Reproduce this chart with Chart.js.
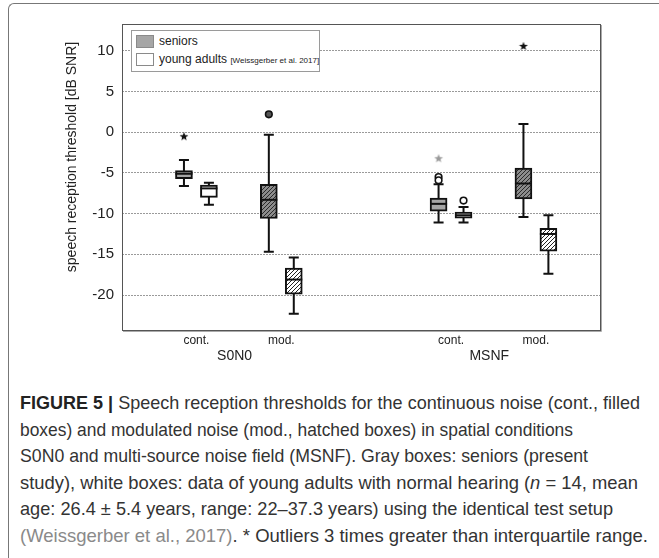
<!DOCTYPE html>
<html>
<head>
<meta charset="utf-8">
<script src="https://cdn.jsdelivr.net/npm/chart.js@4.4.1/dist/chart.umd.min.js"></script>
<style>
  html, body { margin: 0; padding: 0; background: #fff; }
  body { width: 659px; height: 558px; position: relative; overflow: hidden; font-family: Arial, "Liberation Sans", sans-serif; }
  #frame { position: absolute; left: 8px; top: 3px; width: 700px; height: 600px; border-left: 1px solid #777; border-top: 1px solid #777; border-top-left-radius: 6px; }
  #chartBox { position: absolute; left: 0; top: 0; width: 659px; height: 365px; }
  #legend { position: absolute; left: 131px; top: 30px; width: 187px; height: 40px; border: 1px solid #9a9a9a; background: #fff; font-size: 12px; color: #222; }
  #legend .item { position: absolute; left: 4px; height: 13px; line-height: 13px; white-space: nowrap; }
  #legend .sw { position: absolute; left: 0; top: 0; width: 16px; height: 11px; border: 1px solid #8a8a8a; }
  #legend .txt { position: absolute; left: 23px; top: 0; }
  #legend small { font-size: 8px; }
  #caption { position: absolute; left: 20px; top: 390px; font-family: "Liberation Sans Narrow", "Liberation Sans", Arial, sans-serif; font-size: 18.5px; line-height: 26.5px; color: #333; }
  #caption .line { display: block; white-space: nowrap; width: max-content; transform-origin: 0 50%; }
  #caption b { color: #222; }
  #caption .ref { color: #8a8a8a; }
</style>
</head>
<body>
<div id="frame"></div>
<div id="chartBox"><canvas id="srtChart" width="659" height="365"></canvas></div>
<div id="legend">
  <div class="item" style="top:4px"><span class="sw" style="background:#a6a6a6"></span><span class="txt">seniors</span></div>
  <div class="item" style="top:22px"><span class="sw" style="background:#fff"></span><span class="txt">young adults <small>[Weissgerber et al. 2017]</small></span></div>
</div>
<div id="caption">
  <span class="line"><b>FIGURE 5 |</b> Speech reception thresholds for the continuous noise (cont., filled</span>
  <span class="line">boxes) and modulated noise (mod., hatched boxes) in spatial conditions</span>
  <span class="line">S0N0 and multi-source noise field (MSNF). Gray boxes: seniors (present</span>
  <span class="line">study), white boxes: data of young adults with normal hearing (<i>n</i> = 14, mean</span>
  <span class="line">age: 26.4 ± 5.4 years, range: 22–37.3 years) using the identical test setup</span>
  <span class="line"><span class="ref">(Weissgerber et al., 2017)</span>. * Outliers 3 times greater than interquartile range.</span>
</div>
<script>
// noise types per spatial condition
const categories = ["cont.", "mod.", "cont.", "mod."];
const conditions = ["S0N0", "MSNF"];
const yTicks = [10, 5, 0, -5, -10, -15, -20];

// seniors (present study), dB SNR
const seniorsLow = [-6.6, -14.7, -11.1, -10.4];
const seniorsQ1 = [-5.7, -10.6, -9.7, -8.2];
const seniorsMedian = [-5.1, -8.3, -8.8, -6.3];
const seniorsQ3 = [-4.7, -6.4, -8.1, -4.4];
const seniorsHigh = [-3.4, -0.3, -6.4, 1.0];

// young adults (Weissgerber et al. 2017), dB SNR
const youngLow = [-8.9, -22.3, -11.1, -17.4];
const youngQ1 = [-8.0, -19.9, -10.55, -14.6];
const youngMedian = [-6.9, -18.1, -10.2, -12.5];
const youngQ3 = [-6.5, -16.7, -9.8, -11.8];
const youngHigh = [-6.2, -15.4, -9.2, -10.2];

// outliers: group (0 seniors, 1 young), category index, value, kind
const outlierGroup = [0, 0, 0, 0, 0, 1, 0];
const outlierCategory = [0, 1, 2, 2, 2, 2, 3];
const outlierValues = [-0.5, 2.2, -3.2, -5.5, -5.9, -8.4, 10.6];
const outlierKinds = ["extreme", "outlier", "extreme", "outlier", "outlier", "outlier", "extreme"];

// ---- layout / style ----
const pairOffset = 0.147;
const slotOf = (i) => i + 1 + (i >= 2 ? 1 : 0);   // gap between the two conditions
const xOf = (group, i) => slotOf(i) + (group === 0 ? -pairOffset : pairOffset);

function hatch(bg, fg) {
  const c = document.createElement("canvas");
  c.width = 4; c.height = 4;
  const g = c.getContext("2d");
  g.fillStyle = bg; g.fillRect(0, 0, 4, 4);
  g.strokeStyle = fg; g.lineWidth = 1;
  g.beginPath();
  g.moveTo(-1, 5); g.lineTo(5, -1);
  g.moveTo(-3, 3); g.lineTo(3, -3);
  g.moveTo(1, 7); g.lineTo(7, 1);
  g.stroke();
  return g.createPattern(c, "repeat");
}

function starImage(color) {
  const c = document.createElement("canvas");
  c.width = 10; c.height = 10;
  const g = c.getContext("2d");
  g.fillStyle = color;
  g.beginPath();
  for (let k = 0; k < 10; k++) {
    const r = k % 2 === 0 ? 4.6 : 1.9;
    const a = -Math.PI / 2 + k * Math.PI / 5;
    g.lineTo(5 + r * Math.cos(a), 5.3 + r * Math.sin(a));
  }
  g.closePath();
  g.fill();
  return c;
}

const ctx0 = document.getElementById("srtChart").getContext("2d");
const seniorsFill = ["#a6a6a6", hatch("#8c8c8c", "#2a2a2a"), "#a6a6a6", hatch("#8c8c8c", "#2a2a2a")];
const youngFill = ["#ffffff", hatch("#ffffff", "#222"), "#ffffff", hatch("#ffffff", "#222")];
const blackStar = starImage("#111");
const grayStar = starImage("#9a9a9a");

const boxes = [
  { low: seniorsLow, q1: seniorsQ1, med: seniorsMedian, q3: seniorsQ3, high: seniorsHigh },
  { low: youngLow, q1: youngQ1, med: youngMedian, q3: youngQ3, high: youngHigh },
];

const outlierPoints = outlierValues.map((v, k) => ({ x: xOf(outlierGroup[k], outlierCategory[k]), y: v }));

const boxParts = {
  id: "boxParts",
  beforeDatasetsDraw(chart) {
    const { ctx, scales: { x, y } } = chart;
    ctx.save();
    ctx.strokeStyle = "#111";
    ctx.lineWidth = 2;
    boxes.forEach((b, g) => {
      categories.forEach((c, i) => {
        const px = x.getPixelForValue(xOf(g, i));
        const lo = y.getPixelForValue(b.low[i]);
        const hi = y.getPixelForValue(b.high[i]);
        ctx.beginPath();
        ctx.moveTo(px, lo); ctx.lineTo(px, hi);
        ctx.moveTo(px - 5, lo); ctx.lineTo(px + 5, lo);
        ctx.moveTo(px - 5, hi); ctx.lineTo(px + 5, hi);
        ctx.stroke();
      });
    });
    ctx.restore();
  },
  afterDatasetsDraw(chart) {
    const { ctx, scales: { x, y } } = chart;
    ctx.save();
    ctx.strokeStyle = "#111";
    ctx.lineWidth = 2;
    boxes.forEach((b, g) => {
      const meta = chart.getDatasetMeta(g);
      categories.forEach((c, i) => {
        const bar = meta.data[i];
        const px = x.getPixelForValue(xOf(g, i));
        const py = y.getPixelForValue(b.med[i]);
        ctx.beginPath();
        ctx.moveTo(px - bar.width / 2, py); ctx.lineTo(px + bar.width / 2, py);
        ctx.stroke();
      });
    });
    // plot frame with a slight shadow on right / bottom
    const a = chart.chartArea;
    ctx.lineWidth = 1;
    ctx.strokeStyle = "#555";
    ctx.strokeRect(a.left + 0.5, a.top + 0.5, a.right - a.left, a.bottom - a.top);
    ctx.strokeStyle = "#aaa";
    ctx.beginPath();
    ctx.moveTo(a.right + 1.5, a.top + 1); ctx.lineTo(a.right + 1.5, a.bottom + 1.5);
    ctx.lineTo(a.left + 1, a.bottom + 1.5);
    ctx.stroke();
    // condition labels under the noise type labels
    ctx.fillStyle = "#222";
    ctx.font = "14px Arial";
    ctx.textAlign = "center";
    ctx.textBaseline = "middle";
    conditions.forEach((name, k) => {
      ctx.fillText(name, x.getPixelForValue(slotOf(k * 2) + 0.45), 356);
    });
    // y axis title
    ctx.translate(72, 157);
    ctx.rotate(-Math.PI / 2);
    ctx.fillText("speech reception threshold [dB SNR]", 0, 0);
    ctx.restore();
  },
};

new Chart(ctx0, {
  type: "bar",
  data: {
    datasets: [
      {
        label: "seniors",
        data: categories.map((c, i) => ({ x: xOf(0, i), y: [seniorsQ1[i], seniorsQ3[i]] })),
        backgroundColor: seniorsFill,
        borderColor: "#111",
        borderWidth: 2,
        borderSkipped: false,
        barThickness: 17,
        grouped: false,
      },
      {
        label: "young adults",
        data: categories.map((c, i) => ({ x: xOf(1, i), y: [youngQ1[i], youngQ3[i]] })),
        backgroundColor: youngFill,
        borderColor: "#111",
        borderWidth: 2,
        borderSkipped: false,
        barThickness: 17,
        grouped: false,
      },
      {
        type: "scatter",
        label: "outliers",
        data: outlierPoints,
        pointStyle: outlierKinds.map((k, j) => k === "extreme" ? (outlierCategory[j] === 2 ? grayStar : blackStar) : "circle"),
        pointRadius: 3.3,
        borderWidth: 1.6,
        borderColor: "#111",
        backgroundColor: outlierCategory.map((c, j) => c === 1 ? "#555" : "#fff"),
      },
    ],
  },
  options: {
    responsive: false,
    animation: false,
    devicePixelRatio: 1,
    layout: { padding: { left: 0, top: 24, right: 59, bottom: 0 } },
    plugins: { legend: { display: false }, tooltip: { enabled: false } },
    scales: {
      x: {
        type: "linear",
        offset: false,
        min: 0.123,
        max: 5.755,
        afterBuildTicks: (s) => { s.ticks = categories.map((c, i) => ({ value: slotOf(i) })); },
        afterFit: (s) => { s.height = 35; },
        ticks: {
          callback: (v, i) => categories[i],
          font: { family: "Arial", size: 12 },
          color: "#222",
          padding: 3,
          maxRotation: 0,
          autoSkip: false,
        },
        grid: { display: false, drawTicks: false },
        border: { display: false },
      },
      y: {
        min: -24.3,
        max: 13.3,
        afterBuildTicks: (s) => { s.ticks = yTicks.map((v) => ({ value: v })); },
        afterFit: (s) => { s.width = 122; },
        ticks: { font: { family: "Arial", size: 15 }, color: "#222", padding: 8 },
        grid: { color: "#9a9a9a", lineWidth: 1, drawTicks: false },
        border: { display: false, dash: [2, 1] },
      },
    },
  },
  plugins: [boxParts],
});

// fit caption lines to the reference line lengths
const captionWidths = [620, 553, 568, 618, 593, 628];
document.querySelectorAll("#caption .line").forEach((el, i) => {
  const w = el.getBoundingClientRect().width;
  el.style.transform = "scaleX(" + (captionWidths[i] / w) + ")";
});
</script>
</body>
</html>
